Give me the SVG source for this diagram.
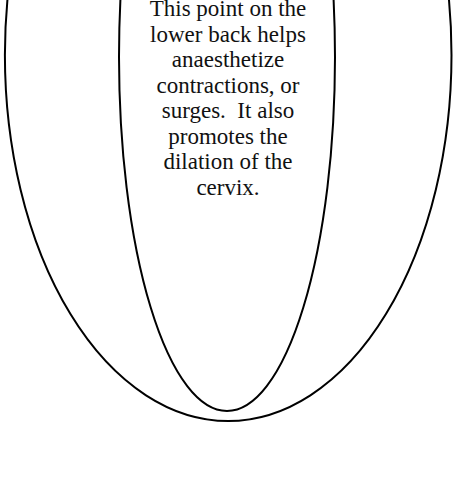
<svg xmlns="http://www.w3.org/2000/svg" width="453" height="494" viewBox="0 0 453 494">
<style>
.shape{fill:none;stroke:#000;stroke-width:2}
.lbl{font-family:"Liberation Serif","Times New Roman",serif;font-size:23px;fill:#111;text-anchor:middle;white-space:pre}
</style>
<rect width="453" height="494" fill="#fff"/>
<g id="outer">
<ellipse class="shape" cx="228.2" cy="55" rx="223.3" ry="366"/>
</g>
<g id="inner">
<ellipse class="shape" cx="227" cy="57" rx="108" ry="354"/>
<text class="lbl" xml:space="preserve"><tspan x="228" y="16">This point on the</tspan><tspan x="228" y="41.5">lower back helps</tspan><tspan x="228" y="67">anaesthetize</tspan><tspan x="228" y="92.5">contractions, or</tspan><tspan x="228" y="118">surges.  It also</tspan><tspan x="228" y="143.5">promotes the</tspan><tspan x="228" y="169">dilation of the</tspan><tspan x="228" y="194.5">cervix.</tspan></text>
</g>
<g id="connectors"></g>
</svg>
